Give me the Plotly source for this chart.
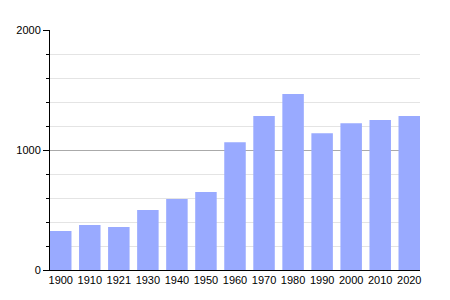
import plotly.graph_objects as go

years = ["1900", "1910", "1921", "1930", "1940", "1950", "1960", "1970", "1980", "1990", "2000", "2010", "2020"]
population = [325, 375, 358, 500, 592, 650, 1064, 1283, 1467, 1140, 1222, 1250, 1283]
y_ticks = [0, 1000, 2000]

bar_color = "#99aaff"
gap = 0.26

fig = go.Figure(go.Bar(x=years, y=population, marker=dict(color=bar_color, line=dict(width=0))))

fig.update_layout(
    width=450, height=300,
    margin=dict(l=50, r=30, t=30, b=30),
    paper_bgcolor="white", plot_bgcolor="white",
    bargap=gap, showlegend=False,
    font=dict(family="Liberation Sans, Arial, sans-serif", size=11, color="black"),
)
fig.update_xaxes(
    type="category", range=[-0.5 + gap / 2, len(years) - 0.5 - gap / 2],
    showline=True, linecolor="black", linewidth=1,
    ticks="", showgrid=False, tickfont=dict(size=11),
)
fig.update_yaxes(
    range=[0, 2000], tickvals=y_ticks, ticktext=[str(v) for v in y_ticks],
    showline=True, linecolor="black", linewidth=1,
    ticks="outside", ticklen=6, tickcolor="black", tickwidth=1,
    showgrid=True, gridcolor="#aaaaaa", gridwidth=1,
    zeroline=False, tickfont=dict(size=11),
    minor=dict(dtick=200, ticks="outside", ticklen=3, tickcolor="black",
               showgrid=True, gridcolor="#e4e4e4", gridwidth=1),
)

fig.write_html("out.html")
